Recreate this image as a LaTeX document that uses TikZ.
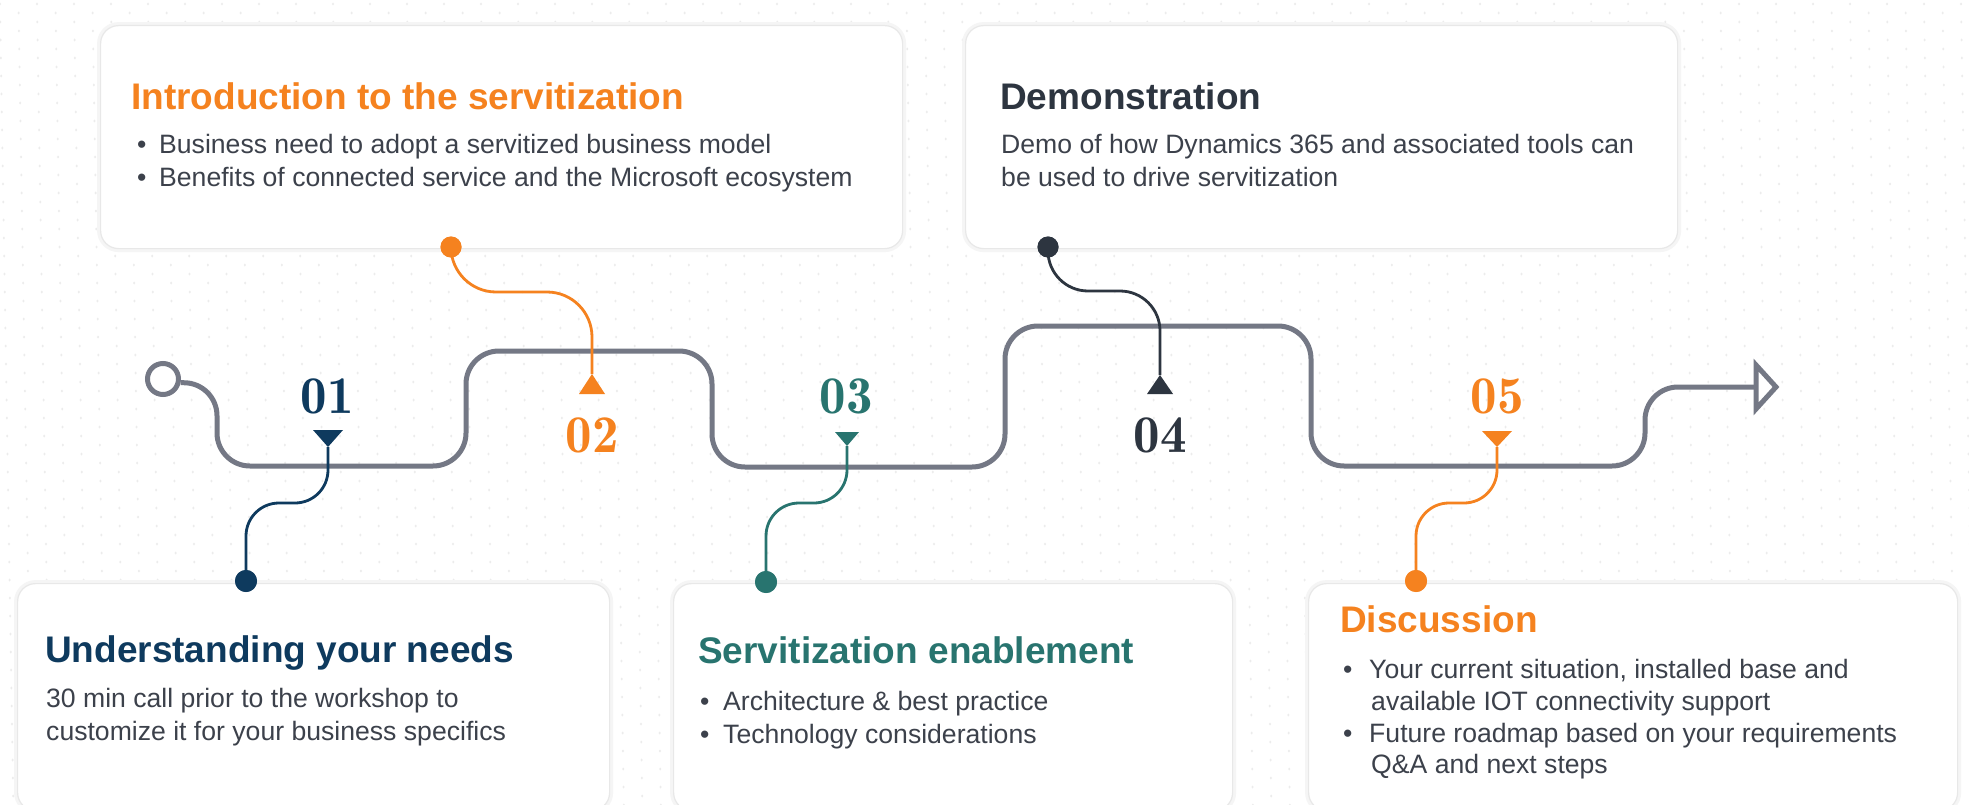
\documentclass[tikz,border=0pt]{standalone}
\usepackage{fontspec}
\setsansfont{Liberation Sans}
\newfontfamily\numfont{lmromandemi10-regular.otf}
\usetikzlibrary{calc}
\definecolor{orng}{HTML}{F5821F}
\definecolor{navy}{HTML}{0E3A5E}
\definecolor{tealc}{HTML}{28746F}
\definecolor{darkc}{HTML}{2D3540}
\definecolor{trackgray}{HTML}{747885}
\definecolor{bodytext}{HTML}{3C414B}
\definecolor{dotbg}{HTML}{ECECEC}
\begin{document}
\begin{tikzpicture}[x=1pt,y=-1pt,
  card/.style={draw=black!9, line width=1.2pt, fill=white, rounded corners=18pt,
    inner sep=0pt, anchor=north west, preaction={draw=black!4, line width=7pt}},
  track/.style={draw=trackgray, line width=5pt, rounded corners=33pt},
  conn/.style={line width=2.8pt},
  dot/.style={circle, inner sep=0pt, minimum size=22pt},
  num/.style={font=\numfont\fontsize{53}{53}\selectfont, anchor=base, inner sep=0pt},
  ttl/.style={font=\sffamily\bfseries\fontsize{37}{40}\selectfont, anchor=base west, inner sep=0pt},
  txt/.style={font=\sffamily\fontsize{26.6}{32}\selectfont, text=bodytext, anchor=base west, inner sep=0pt}]
\useasboundingbox (0,0) rectangle (1969,805);
\clip (0,0) rectangle (1969,805);
\fill[white] (0,0) rectangle (1969,805);

% faint dotted background
\foreach \r in {0,...,89}{
  \pgfmathsetmacro{\yy}{\r*9+4}
  \pgfmathsetmacro{\xo}{mod(\r,2)*18.5+\r*0.15}
  \foreach \c in {-1,...,53}{
    \fill[dotbg] (\c*37+\xo,\yy) ellipse (1.1 and 1.5);
  }
}

% cards
\node[card, minimum width=802pt, minimum height=223pt] (b2) at (100,25) {};
\node[card, minimum width=712pt, minimum height=223pt] (b4) at (965,25) {};
\node[card, minimum width=592pt, minimum height=227pt] (b1) at (17,583) {};
\node[card, minimum width=559pt, minimum height=227pt] (b3) at (673,583) {};
\node[card, minimum width=649pt, minimum height=227pt] (b5) at (1308,583) {};

% track
\node[draw=trackgray, line width=5pt, circle, minimum size=31pt, inner sep=0pt, fill=white] (start) at (163,379) {};
\coordinate (arrowbase) at (1756,387);
\draw[track] (start.-12) -| (217,466) -| (466,351) -| (712,467) -| (1005,326) -| (1311,466) -| (1645,387) -- (arrowbase);
\draw[trackgray, line width=5pt, fill=white, line join=miter] (arrowbase) ++(0,-22) -- ++(20,22) -- ++(-20,22) -- cycle;

% markers
\coordinate (t1) at (328,447);
\coordinate (t2) at (592,374);
\coordinate (t3) at (847,446);
\coordinate (t4) at (1160,375);
\coordinate (t5) at (1497,447);
\node[dot, fill=navy] (d1) at (246,581) {};
\node[dot, fill=orng, minimum size=21pt] (d2) at (451,247) {};
\node[dot, fill=tealc] (d3) at (766,582) {};
\node[dot, fill=darkc, minimum size=21pt] (d4) at (1048,247) {};
\node[dot, fill=orng] (d5) at (1416,581) {};

\draw[conn, navy, rounded corners=33pt] (t1) -- ++(0,56) -| (d1.center);
\draw[conn, orng, rounded corners=45pt] (d2.center) -- ++(0,45) -| (t2);
\draw[conn, tealc, rounded corners=33pt] (t3) -- ++(0,57) -| (d3.center);
\draw[conn, darkc, rounded corners=40pt] (d4.center) -- ++(0,44) -| (t4);
\draw[conn, orng, rounded corners=33pt] (t5) -- ++(0,56) -| (d5.center);
\node[dot, fill=navy] at (d1) {};
\node[dot, fill=orng, minimum size=21pt] at (d2) {};
\node[dot, fill=tealc] at (d3) {};
\node[dot, fill=darkc, minimum size=21pt] at (d4) {};
\node[dot, fill=orng] at (d5) {};

\fill[navy] (t1) -- ++(-15,-17) -- ++(30,0) -- cycle;
\fill[orng] (t2) -- ++(-13,20) -- ++(26,0) -- cycle;
\fill[tealc] (t3) -- ++(-12,-14) -- ++(24,0) -- cycle;
\fill[darkc] (t4) -- ++(-13,19) -- ++(26,0) -- cycle;
\fill[orng] (t5) -- ++(-15,-16) -- ++(30,0) -- cycle;

% numbers
\node[num, text=navy] (n1) at (327,413) {01};
\node[num, text=orng] (n2) at (592,452) {02};
\node[num, text=tealc] (n3) at (846,413) {03};
\node[num, text=darkc] (n4) at (1160,452) {04};
\node[num, text=orng] (n5) at (1497,413) {05};

% Intro box
\node[ttl, text=orng] (h2) at (131,110) {Introduction to the servitization};
\node[txt] (b2a) at (137,154) {\textbullet};
\node[txt] (b2b) at (137,186) {\textbullet};
\node[txt] (l2a) at (159,154) {Business need to adopt a servitized business model};
\node[txt] (l2b) at (159,186) {Benefits of connected service and the Microsoft ecosystem};

% Demo box
\node[ttl, text=darkc] (h4) at (1000,110) {Demonstration};
\node[txt] (l4a) at (1001,154) {Demo of how Dynamics 365 and associated tools can};
\node[txt] (l4b) at (1001,186) {be used to drive servitization};

% Understanding box
\node[ttl, text=navy] (h1) at (45,662) {Understanding your needs};
\node[txt] (l1a) at (46,707) {30 min call prior to the workshop to};
\node[txt] (l1b) at (46,740) {customize it for your business specifics};

% Servitization box
\node[ttl, text=tealc] (h3) at (698,663) {Servitization enablement};
\node[txt] (b3a) at (700,710) {\textbullet};
\node[txt] (b3b) at (700,743) {\textbullet};
\node[txt] (l3a) at (723,710) {Architecture \& best practice};
\node[txt] (l3b) at (723,743) {Technology considerations};

% Discussion box
\node[ttl, text=orng] (h5) at (1340,632) {Discussion};
\node[txt] (b5a) at (1343,678) {\textbullet};
\node[txt] (b5b) at (1343,742) {\textbullet};
\node[txt] (l5a) at (1369,678) {Your current situation, installed base and};
\node[txt] (l5b) at (1371,710) {available IOT connectivity support};
\node[txt] (l5c) at (1369,742) {Future roadmap based on your requirements};
\node[txt] (l5d) at (1371,773) {Q\&A and next steps};
\end{tikzpicture}
\end{document}
